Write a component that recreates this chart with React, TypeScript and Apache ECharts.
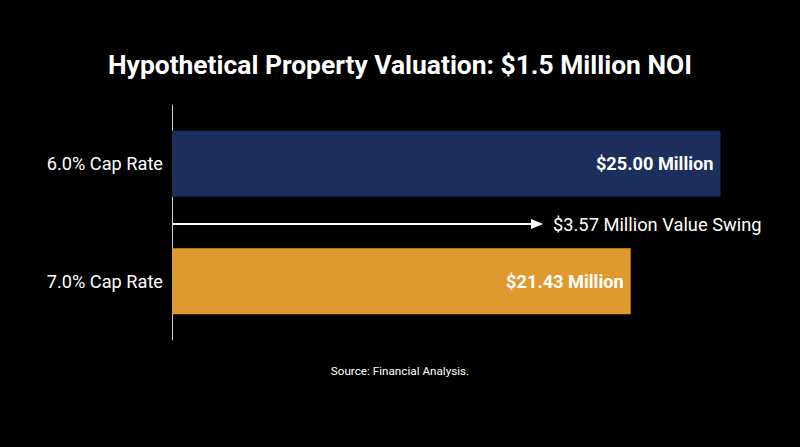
import React, { useEffect, useRef } from "react";
import * as echarts from "echarts";

const categories = ["6.0% Cap Rate", "7.0% Cap Rate"];
const values = [25.0, 21.43];
const barColors = ["#1c2e5c", "#e0992f"];
const titleText = "Hypothetical Property Valuation: $1.5 Million NOI";
const sourceText = "Source: Financial Analysis.";

export default function App() {
  const ref = useRef<HTMLDivElement>(null);
  useEffect(() => {
    if (!ref.current) return;
    const chart = echarts.init(ref.current, undefined, { renderer: "svg" });
    const swing = values[0] - values[1];
    const font = "Roboto, 'Noto Sans', sans-serif";
    chart.setOption({
      animation: false,
      backgroundColor: "#000000",
      title: {
        text: titleText,
        left: "center",
        top: 47,
        textStyle: { color: "#ffffff", fontSize: 26.4, fontWeight: "bold", fontFamily: font },
      },
      grid: { left: 172, right: 4, top: 105, bottom: 107, containLabel: false },
      xAxis: {
        type: "value",
        min: 3.2,
        max: 28,
        show: false,
        splitLine: { show: false },
      },
      yAxis: {
        type: "category",
        data: categories,
        inverse: true,
        axisLine: { show: true, lineStyle: { color: "#d0d0d0", width: 1 } },
        axisTick: { show: false },
        axisLabel: { color: "#ffffff", fontSize: 18.2, fontFamily: font, margin: 9 },
      },
      series: [
        {
          type: "bar",
          barWidth: 66,
          data: values.map((v, i) => ({ value: v, itemStyle: { color: barColors[i] } })),
          label: {
            show: true,
            position: "insideRight",
            distance: 7,
            color: "#ffffff",
            fontSize: 18.2,
            fontWeight: "bold",
            fontFamily: font,
            formatter: (p: any) => `$${p.value.toFixed(2)} Million`,
          },
        },
      ],
      graphic: [
        {
          type: "line",
          shape: { x1: 172, y1: 224, x2: 533, y2: 224 },
          style: { stroke: "#ffffff", lineWidth: 2 },
        },
        {
          type: "polygon",
          shape: { points: [[531, 219], [543, 224], [531, 229]] },
          style: { fill: "#ffffff" },
        },
        {
          type: "text",
          x: 553,
          y: 224,
          style: {
            text: `$${swing.toFixed(2)} Million Value Swing`,
            fill: "#ffffff",
            fontSize: 18.3,
            fontFamily: font,
            verticalAlign: "middle",
            align: "left",
          },
        },
        {
          type: "text",
          x: 400,
          y: 371,
          style: {
            text: sourceText,
            fill: "#ffffff",
            fontSize: 11.7,
            fontFamily: font,
            align: "center",
            verticalAlign: "middle",
          },
        },
      ],
    });
    return () => chart.dispose();
  }, []);
  return <div ref={ref} style={{ width: 800, height: 447, position: "fixed", left: 0, top: 0 }} />;
}
